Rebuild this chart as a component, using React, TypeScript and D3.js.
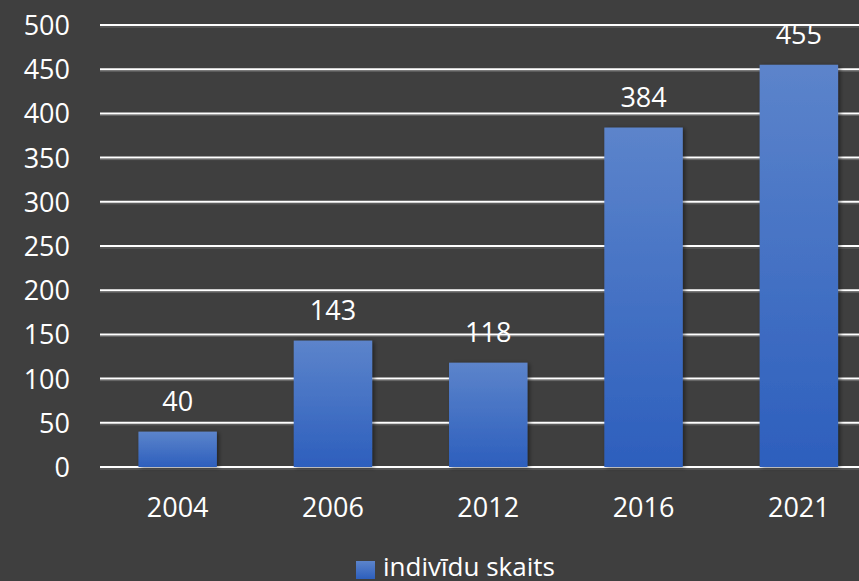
import React, { useEffect, useRef } from 'react';
import * as d3 from 'd3';

const years = ['2004', '2006', '2012', '2016', '2021'];
const counts = [40, 143, 118, 384, 455];
const yTicks = [0, 50, 100, 150, 200, 250, 300, 350, 400, 450, 500];
const seriesName = 'indivīdu skaits';

const W = 859;
const H = 581;

const App = () => {
  const ref = useRef<SVGSVGElement | null>(null);

  useEffect(() => {
    const svg = d3.select(ref.current);
    svg.selectAll('*').remove();

    const margin = { top: 25, left: 100, bottom: 467 };
    const step = 155.3;
    const font = "'Open Sans', 'Noto Sans', sans-serif";
    const fs = '27px';

    const x = d3.scaleBand()
      .domain(years)
      .range([margin.left, margin.left + step * years.length])
      .paddingInner(0.495)
      .paddingOuter(0.2475);

    const y = d3.scaleLinear()
      .domain([0, 500])
      .range([margin.bottom, margin.top]);

    const defs = svg.append('defs');
    const grad = defs.append('linearGradient')
      .attr('id', 'barGrad')
      .attr('x1', 0).attr('y1', 0).attr('x2', 0).attr('y2', 1);
    grad.append('stop').attr('offset', '0%').attr('stop-color', '#5c84cb');
    grad.append('stop').attr('offset', '100%').attr('stop-color', '#2d5fbd');

    const shadow = defs.append('filter').attr('id', 'shadow')
      .attr('x', '-20%').attr('y', '-20%').attr('width', '140%').attr('height', '140%');
    shadow.append('feDropShadow')
      .attr('dx', 2).attr('dy', 1).attr('stdDeviation', 2)
      .attr('flood-color', '#000').attr('flood-opacity', 0.45);

    svg.append('rect').attr('width', W).attr('height', H).attr('fill', '#3f3f3f');

    // gridlines (white line with a faint shade under it)
    const grid = svg.append('g');
    grid.selectAll('line.shade')
      .data(yTicks)
      .join('line')
      .attr('class', 'shade')
      .attr('x1', margin.left).attr('x2', W)
      .attr('y1', d => y(d) + 2).attr('y2', d => y(d) + 2)
      .attr('stroke', '#6a6a6a').attr('stroke-width', 1);
    grid.selectAll('line.main')
      .data(yTicks)
      .join('line')
      .attr('class', 'main')
      .attr('x1', margin.left).attr('x2', W)
      .attr('y1', d => y(d)).attr('y2', d => y(d))
      .attr('stroke', '#ffffff').attr('stroke-width', 2);

    // y labels
    svg.append('g').selectAll('text')
      .data(yTicks)
      .join('text')
      .attr('x', 70)
      .attr('y', d => y(d) + 10)
      .attr('text-anchor', 'end')
      .attr('fill', '#ffffff')
      .style('font-family', font)
      .style('font-size', fs)
      .text(d => d);

    // bars
    svg.append('g').selectAll('rect')
      .data(counts)
      .join('rect')
      .attr('x', (d, i) => x(years[i])!)
      .attr('y', d => y(d))
      .attr('width', x.bandwidth())
      .attr('height', d => y(0) - y(d))
      .attr('fill', 'url(#barGrad)')
      .attr('filter', 'url(#shadow)');

    // value labels
    svg.append('g').selectAll('text')
      .data(counts)
      .join('text')
      .attr('x', (d, i) => x(years[i])! + x.bandwidth() / 2)
      .attr('y', d => y(d) - 21)
      .attr('text-anchor', 'middle')
      .attr('fill', '#ffffff')
      .style('font-family', font)
      .style('font-size', fs)
      .text(d => d);

    // x labels
    svg.append('g').selectAll('text')
      .data(years)
      .join('text')
      .attr('x', d => x(d)! + x.bandwidth() / 2)
      .attr('y', 517)
      .attr('text-anchor', 'middle')
      .attr('fill', '#ffffff')
      .style('font-family', font)
      .style('font-size', fs)
      .text(d => d);

    // legend
    const legend = svg.append('g');
    legend.append('rect')
      .attr('x', 356).attr('y', 561).attr('width', 19).attr('height', 18)
      .attr('fill', 'url(#barGrad)');
    legend.append('text')
      .attr('x', 383).attr('y', 576)
      .attr('fill', '#ffffff')
      .style('font-family', font)
      .style('font-size', '26px')
      .text(seriesName);
  }, []);

  return (
    <div style={{ position: 'absolute', left: 0, top: 0 }}>
      <svg ref={ref} width={W} height={H} style={{ display: 'block' }} />
    </div>
  );
};

export default App;
